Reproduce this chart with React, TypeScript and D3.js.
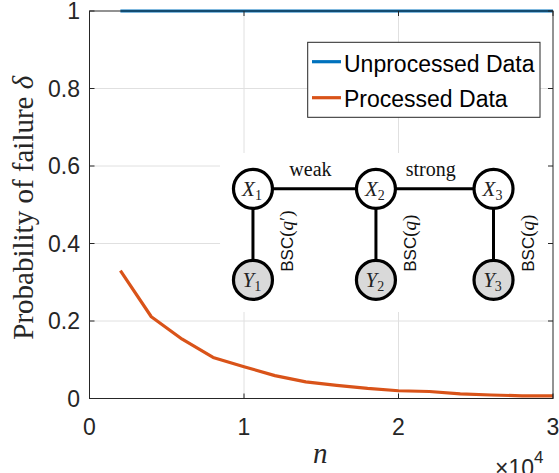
import React from 'react';
import * as d3 from 'd3';

// sample sizes (n) and failure probabilities
const nValues = [2000, 4000, 6000, 8000, 10000, 12000, 14000, 16000, 18000, 20000, 22000, 24000, 26000, 28000, 30000];
const unprocessed = [1, 1, 1, 1, 1, 1, 1, 1, 1, 1, 1, 1, 1, 1, 1];
const processed = [0.33, 0.211, 0.153, 0.106, 0.082, 0.059, 0.043, 0.034, 0.026, 0.02, 0.018, 0.012, 0.009, 0.007, 0.007];

const xTicks = [0, 10000, 20000, 30000];
const xTickLabels = ['0', '1', '2', '3'];
const yTicks = [0, 0.2, 0.4, 0.6, 0.8, 1];
const yTickLabels = ['0', '0.2', '0.4', '0.6', '0.8', '1'];

const seriesNames = ['Unprocessed Data', 'Processed Data'];
const seriesColors = ['#0072BD', '#D95319'];

// inset graphical model (placed in data coordinates)
const nodeSubs = ['1', '2', '3'];
const nodeN = [10580, 18540, 26150];
const xRowDelta = 0.541;
const yRowDelta = 0.306;
const edgeLabels = ['weak', 'strong'];
const channelPrimes = [true, false, false];

const W = 559;
const H = 473;
const margin = { left: 89.5, right: 6, top: 11, bottom: 74.5 };

const sans = '"Liberation Sans", Arial, Helvetica, sans-serif';
const serif = '"Liberation Serif", "Times New Roman", serif';
const axisColor = '#262626';
const gridColor = '#e0e0e0';

const App: React.FC = () => {
  const x = d3.scaleLinear().domain([0, 30000]).range([margin.left, W - margin.right]);
  const y = d3.scaleLinear().domain([0, 1]).range([H - margin.bottom, margin.top]);
  const x0 = x(0), x1 = x(30000), y0 = y(0), y1 = y(1);

  const line = d3.line<number>().x((_, i) => x(nValues[i])).y(d => y(d));

  const r = 19.5;
  const nodeX = nodeN.map(v => x(v));
  const rowX = y(xRowDelta);
  const rowY = y(yRowDelta);

  return (
    <svg width={W} height={H} style={{ position: 'absolute', left: 0, top: 0, background: '#fff', overflow: 'hidden' }}>
      <rect x={0} y={0} width={W} height={H} fill="#fff" />

      {/* grid */}
      {xTicks.slice(1, -1).map(t => (
        <line key={'gx' + t} x1={x(t)} x2={x(t)} y1={y0} y2={y1} stroke={gridColor} strokeWidth={1} />
      ))}
      {yTicks.slice(1, -1).map(t => (
        <line key={'gy' + t} x1={x0} x2={x1} y1={y(t)} y2={y(t)} stroke={gridColor} strokeWidth={1} />
      ))}

      {/* data */}
      <path d={line(processed) || ''} fill="none" stroke={seriesColors[1]} strokeWidth={3.2} strokeLinejoin="round" />
      <path d={line(unprocessed) || ''} fill="none" stroke={seriesColors[0]} strokeWidth={3.2} />

      {/* inset diagram */}
      <rect x={x(8450)} y={y(0.6335)} width={x(29900) - x(8450)} height={y(0.2232) - y(0.6335)} fill="#fff" />
      <line x1={nodeX[0]} x2={nodeX[2]} y1={rowX} y2={rowX} stroke="#000" strokeWidth={3} />
      {nodeX.map((cx, i) => (
        <line key={'v' + i} x1={cx} x2={cx} y1={rowX} y2={rowY} stroke="#000" strokeWidth={3} />
      ))}
      {edgeLabels.map((lab, i) => (
        <text key={lab} x={(nodeX[i] + nodeX[i + 1]) / 2 - 4} y={rowX - 13} textAnchor="middle"
          fontFamily={serif} fontSize={20} fill="#111">{lab}</text>
      ))}
      {nodeX.map((cx, i) => (
        <g key={'n' + i}>
          <circle cx={cx} cy={rowX} r={r} fill="#fff" stroke="#000" strokeWidth={3.2} />
          <text x={cx - 1} y={rowX + 7} textAnchor="middle" fontFamily={serif} fontSize={21} fill="#222">
            <tspan fontStyle="italic">X</tspan>
            <tspan fontSize={14} dy={4}>{nodeSubs[i]}</tspan>
          </text>
          <circle cx={cx} cy={rowY} r={r} fill="#d9d9d9" stroke="#000" strokeWidth={3.2} />
          <text x={cx - 1} y={rowY + 7} textAnchor="middle" fontFamily={serif} fontSize={21} fill="#222">
            <tspan fontStyle="italic">Y</tspan>
            <tspan fontSize={14} dy={4}>{nodeSubs[i]}</tspan>
          </text>
          <text transform={`translate(${cx + 40},${y(0.327)}) rotate(-90)`} fontFamily={sans} fontSize={17} fill="#111">
            BSC
            <tspan fontFamily={serif} fontSize={19}>(</tspan>
            <tspan fontFamily={serif} fontSize={19} fontStyle="italic">q</tspan>
            {channelPrimes[i] ? <tspan fontFamily={serif} fontSize={19}>′</tspan> : null}
            <tspan fontFamily={serif} fontSize={19}>)</tspan>
          </text>
        </g>
      ))}

      {/* axes box and ticks */}
      <rect x={x0} y={y1} width={x1 - x0} height={y0 - y1} fill="none" stroke={axisColor} strokeWidth={1} />
      {xTicks.map(t => (
        <g key={'tx' + t}>
          <line x1={x(t)} x2={x(t)} y1={y0} y2={y0 - 5} stroke={axisColor} />
          <line x1={x(t)} x2={x(t)} y1={y1} y2={y1 + 5} stroke={axisColor} />
        </g>
      ))}
      {yTicks.map(t => (
        <g key={'ty' + t}>
          <line x1={x0} x2={x0 + 5} y1={y(t)} y2={y(t)} stroke={axisColor} />
          <line x1={x1} x2={x1 - 5} y1={y(t)} y2={y(t)} stroke={axisColor} />
        </g>
      ))}
      {xTicks.map((t, i) => (
        <text key={'lx' + t} x={x(t)} y={y0 + 36.5} textAnchor="middle" fontFamily={sans} fontSize={23} fill={axisColor}>
          {xTickLabels[i]}
        </text>
      ))}
      {yTicks.map((t, i) => (
        <text key={'ly' + t} x={x0 - 9.5} y={y(t)} dy="0.36em" textAnchor="end" fontFamily={sans} fontSize={23} fill={axisColor}>
          {yTickLabels[i]}
        </text>
      ))}
      <text x={x1 - 58} y={y0 + 77} fontFamily={sans} fontSize={23} fill={axisColor}>
        ×10<tspan fontSize={17} dy={-13}>4</tspan>
      </text>

      {/* axis labels */}
      <text x={(x0 + x1) / 2 - 1} y={y0 + 64} textAnchor="middle" fontFamily={serif} fontStyle="italic" fontSize={29} fill={axisColor}>n</text>
      <text transform={`translate(33,${(y0 + y1) / 2 + 3}) rotate(-90)`} textAnchor="middle" fontFamily={serif} fontSize={29} fill={axisColor}>
        Probability of failure <tspan fontStyle="italic">δ</tspan>
      </text>

      {/* legend */}
      <g>
        <rect x={307.7} y={42.3} width={232.3} height={75} fill="#fff" stroke={axisColor} strokeWidth={1} />
        {seriesNames.map((name, i) => (
          <g key={name}>
            <line x1={312} x2={341} y1={61.7 + i * 36} y2={61.7 + i * 36} stroke={seriesColors[i]} strokeWidth={3.2} />
            <text x={344} y={71.7 + i * 35} fontFamily={sans} fontSize={23} fill="#000">{name}</text>
          </g>
        ))}
      </g>
    </svg>
  );
};

export default App;
